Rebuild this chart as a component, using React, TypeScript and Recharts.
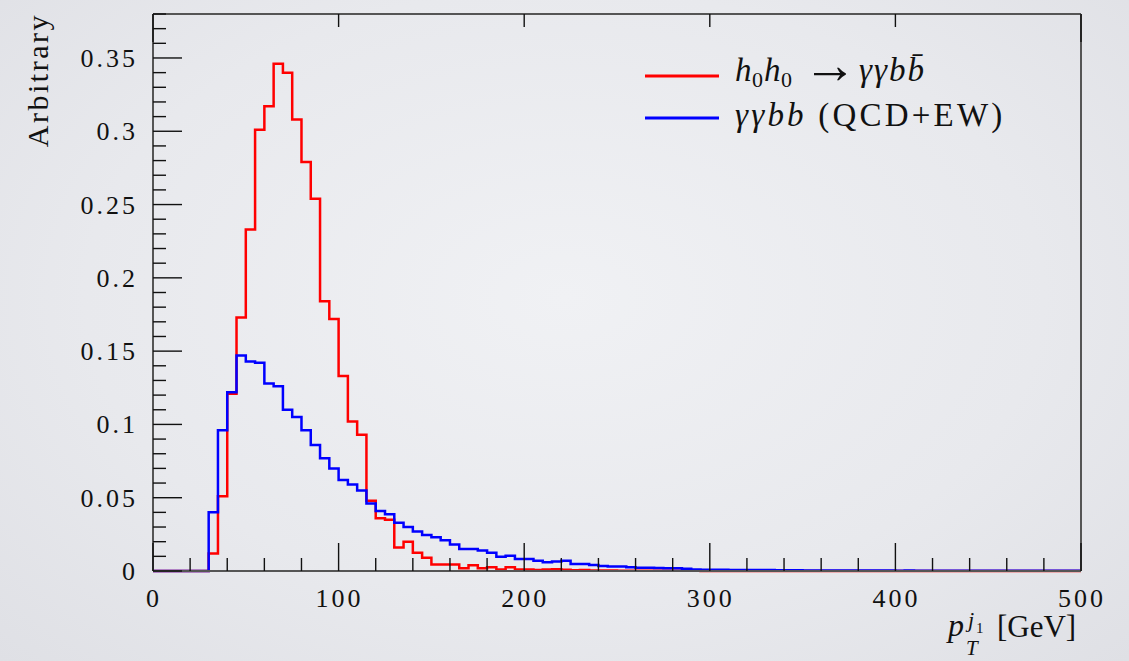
import React from 'react';
import { LineChart, Line, XAxis, YAxis, Legend, Label } from 'recharts';

const SERIF = "'Liberation Serif', 'DejaVu Serif', serif";

// histogram: 100 bins of 5 GeV from 0 to 500
const BIN_WIDTH = 5;

// h0h0 -> γγbb̄ (signal)
const signal = [
  0, 0, 0, 0, 0, 0, 0.012, 0.051, 0.121, 0.173,
  0.233, 0.301, 0.317, 0.346, 0.34, 0.308, 0.279, 0.254, 0.184, 0.172,
  0.133, 0.102, 0.093, 0.048, 0.036, 0.035, 0.016, 0.02, 0.0125, 0.009,
  0.0045, 0.0045, 0.0045, 0.0018, 0.004, 0.0018, 0.0025, 0.001, 0.0025, 0.001,
  0.001, 0.0007, 0.001, 0.0012, 0.0008, 0.0005, 0.0006, 0.0004, 0.0003, 0.0003,
  0.0002, 0.0002, 0.0002, 0.0001, 0.0002, 0.0001, 0.0001, 0.0001, 0.0001, 0,
  0, 0, 0, 0, 0, 0, 0, 0, 0, 0,
  0, 0, 0, 0, 0, 0, 0, 0, 0, 0,
  0, 0, 0, 0, 0, 0, 0, 0, 0, 0,
  0, 0, 0, 0, 0, 0, 0, 0, 0, 0,
];

// γγbb (QCD+EW) background
const background = [
  0, 0, 0, 0, 0, 0, 0.04, 0.096, 0.122, 0.147,
  0.143, 0.142, 0.128, 0.126, 0.11, 0.105, 0.096, 0.086, 0.077, 0.07,
  0.062, 0.059, 0.055, 0.046, 0.041, 0.0387, 0.033, 0.03, 0.027, 0.0246,
  0.023, 0.021, 0.018, 0.015, 0.015, 0.014, 0.0125, 0.0098, 0.0104, 0.0082,
  0.0082, 0.007, 0.0059, 0.0064, 0.007, 0.0048, 0.0048, 0.0041, 0.0034, 0.003,
  0.003, 0.0025, 0.0023, 0.0023, 0.002, 0.0018, 0.0018, 0.0016, 0.001, 0.0009,
  0.0008, 0.0008, 0.0007, 0.0007, 0.0006, 0.0006, 0.0006, 0.0005, 0.0005, 0.0005,
  0.0004, 0.0004, 0.0004, 0.0003, 0.0004, 0.0003, 0.0003, 0.0003, 0.0003, 0.0003,
  0.0002, 0.0003, 0.0002, 0.0002, 0.0002, 0.0002, 0.0002, 0.0002, 0.0002, 0.0002,
  0.0001, 0.0002, 0.0001, 0.0001, 0.0001, 0.0001, 0.0001, 0.0001, 0.0001, 0.0001,
];

const xMajor = [0, 100, 200, 300, 400, 500];
const yMajor = [0, 0.05, 0.1, 0.15, 0.2, 0.25, 0.3, 0.35];
const xTicks = Array.from({ length: 26 }, (_, i) => i * 20);
const yTicks = Array.from({ length: 39 }, (_, i) => i / 100);

// step data: one point per bin edge, last edge repeats the last bin
const data = Array.from({ length: signal.length + 1 }, (_, i) => ({
  x: i * BIN_WIDTH,
  sig: signal[Math.min(i, signal.length - 1)],
  bkg: background[Math.min(i, background.length - 1)],
}));

const isMajorX = (v: number) => xMajor.includes(v);
const isMajorY = (v: number) => yMajor.some((m) => Math.abs(m - v) < 1e-9);

const TICK = '#111';
const FRAME = { stroke: '#555', strokeWidth: 2 };
const labelStyle = { fontFamily: SERIF, fontSize: 26, letterSpacing: 3, fill: '#111' };

const BottomTick = (p: any) => {
  const v = p.payload.value;
  const major = isMajorX(v);
  return (
    <g>
      <line x1={p.x} x2={p.x} y1={p.y} y2={p.y - (major ? 28 : 13)} stroke={TICK} strokeWidth={1.4} />
      {major && (
        <text x={p.x + 1} y={p.y + 36} textAnchor="middle" style={labelStyle}>
          {v}
        </text>
      )}
    </g>
  );
};

const TopTick = (p: any) => {
  const major = isMajorX(p.payload.value);
  return <line x1={p.x} x2={p.x} y1={p.y} y2={p.y + (major ? 28 : 13)} stroke={TICK} strokeWidth={1.4} />;
};

const LeftTick = (p: any) => {
  const v = p.payload.value;
  const major = isMajorY(v);
  return (
    <g>
      <line x1={p.x} x2={p.x + (major ? 29 : 13)} y1={p.y} y2={p.y} stroke={TICK} strokeWidth={1.4} />
      {major && (
        <text x={p.x - 15} y={p.y + 9} textAnchor="end" style={labelStyle}>
          {String(v)}
        </text>
      )}
    </g>
  );
};

const RightTick = (p: any) => {
  const major = isMajorY(p.payload.value);
  return <line x1={p.x} x2={p.x - (major ? 29 : 13)} y1={p.y} y2={p.y} stroke={TICK} strokeWidth={1.4} />;
};

const XTitle = () => (
  <g style={{ fontFamily: SERIF, fill: '#111' }}>
    <text x={948} y={636} fontSize={32} fontStyle="italic">p</text>
    <text x={968} y={627} fontSize={22} fontStyle="italic">j</text>
    <text x={976} y={633} fontSize={15}>1</text>
    <text x={966} y={655} fontSize={21} fontStyle="italic">T</text>
    <text x={997} y={637} fontSize={31}>[GeV]</text>
  </g>
);

const YTitle = () => (
  <text
    x={48}
    y={13}
    transform="rotate(-90 48 13)"
    textAnchor="end"
    style={{ fontFamily: SERIF, fontSize: 30, letterSpacing: 2.5, fill: '#111' }}
  >
    Arbitrary
  </text>
);

// legend svg origin sits at (640, 20) in the page
const renderLegend = () => (
  <svg width={440} height={130} style={{ display: 'block' }}>
    <line x1={5} x2={79} y1={56} y2={56} stroke="#ff0000" strokeWidth={3} />
    <g style={{ fontFamily: SERIF, fontSize: 33, fill: '#111' }}>
      <text x={95} y={61} fontStyle="italic">h</text>
      <text x={112} y={67} fontSize={22}>0</text>
      <text x={124} y={61} fontStyle="italic">h</text>
      <text x={141} y={67} fontSize={22}>0</text>
      <text x={163} y={63} fontSize={54}>{'\u2192'}</text>
      <text x={219} y={61} fontStyle="italic" letterSpacing={2}>{'\u03b3\u03b3bb\u0304'}</text>
    </g>
    <line x1={5} x2={79} y1={98} y2={98} stroke="#0000ff" strokeWidth={3} />
    <text x={95} y={106} style={{ fontFamily: SERIF, fontSize: 33, fill: '#111' }} letterSpacing={3.2}>
      <tspan fontStyle="italic">{'\u03b3\u03b3bb'}</tspan>
      <tspan>{' (QCD+EW)'}</tspan>
    </text>
  </svg>
);

export default function App() {
  return (
    <div
      style={{
        position: 'absolute',
        left: 0,
        top: 0,
        width: 1129,
        height: 661,
        background: 'radial-gradient(ellipse at 50% 45%, #f0f1f4 0%, #e8e9ed 60%, #dfe0e5 100%)',
      }}
    >
      <LineChart width={1129} height={661} data={data} margin={{ top: 0, right: 0, bottom: 0, left: 0 }}>
        <XAxis
          xAxisId="x"
          dataKey="x"
          type="number"
          domain={[0, 500]}
          ticks={xTicks}
          interval={0}
          height={90}
          tickSize={0}
          tickMargin={0}
          tickLine={false}
          axisLine={FRAME}
          tick={BottomTick}
        >
          <Label content={XTitle} />
        </XAxis>
        <XAxis
          xAxisId="top"
          orientation="top"
          type="number"
          domain={[0, 500]}
          ticks={xTicks}
          interval={0}
          height={14}
          tickSize={0}
          tickMargin={0}
          tickLine={false}
          axisLine={FRAME}
          tick={TopTick}
        />
        <YAxis
          yAxisId="y"
          type="number"
          domain={[0, 0.38]}
          ticks={yTicks}
          interval={0}
          width={153}
          tickSize={0}
          tickMargin={0}
          tickLine={false}
          axisLine={FRAME}
          tick={LeftTick}
        >
          <Label content={YTitle} />
        </YAxis>
        <YAxis
          yAxisId="right"
          orientation="right"
          type="number"
          domain={[0, 0.38]}
          ticks={yTicks}
          interval={0}
          width={48}
          tickSize={0}
          tickMargin={0}
          tickLine={false}
          axisLine={FRAME}
          tick={RightTick}
        />
        <Legend
          layout="vertical"
          align="center"
          verticalAlign="middle"
          wrapperStyle={{ left: 640, top: 20, width: 440 }}
          content={renderLegend}
        />
        <Line
          xAxisId="x"
          yAxisId="y"
          type="stepAfter"
          dataKey="sig"
          stroke="#ff0000"
          strokeWidth={2.5}
          dot={false}
          isAnimationActive={false}
        />
        <Line
          xAxisId="x"
          yAxisId="y"
          type="stepAfter"
          dataKey="bkg"
          stroke="#0000ff"
          strokeWidth={2.5}
          dot={false}
          isAnimationActive={false}
        />
      </LineChart>
    </div>
  );
}
